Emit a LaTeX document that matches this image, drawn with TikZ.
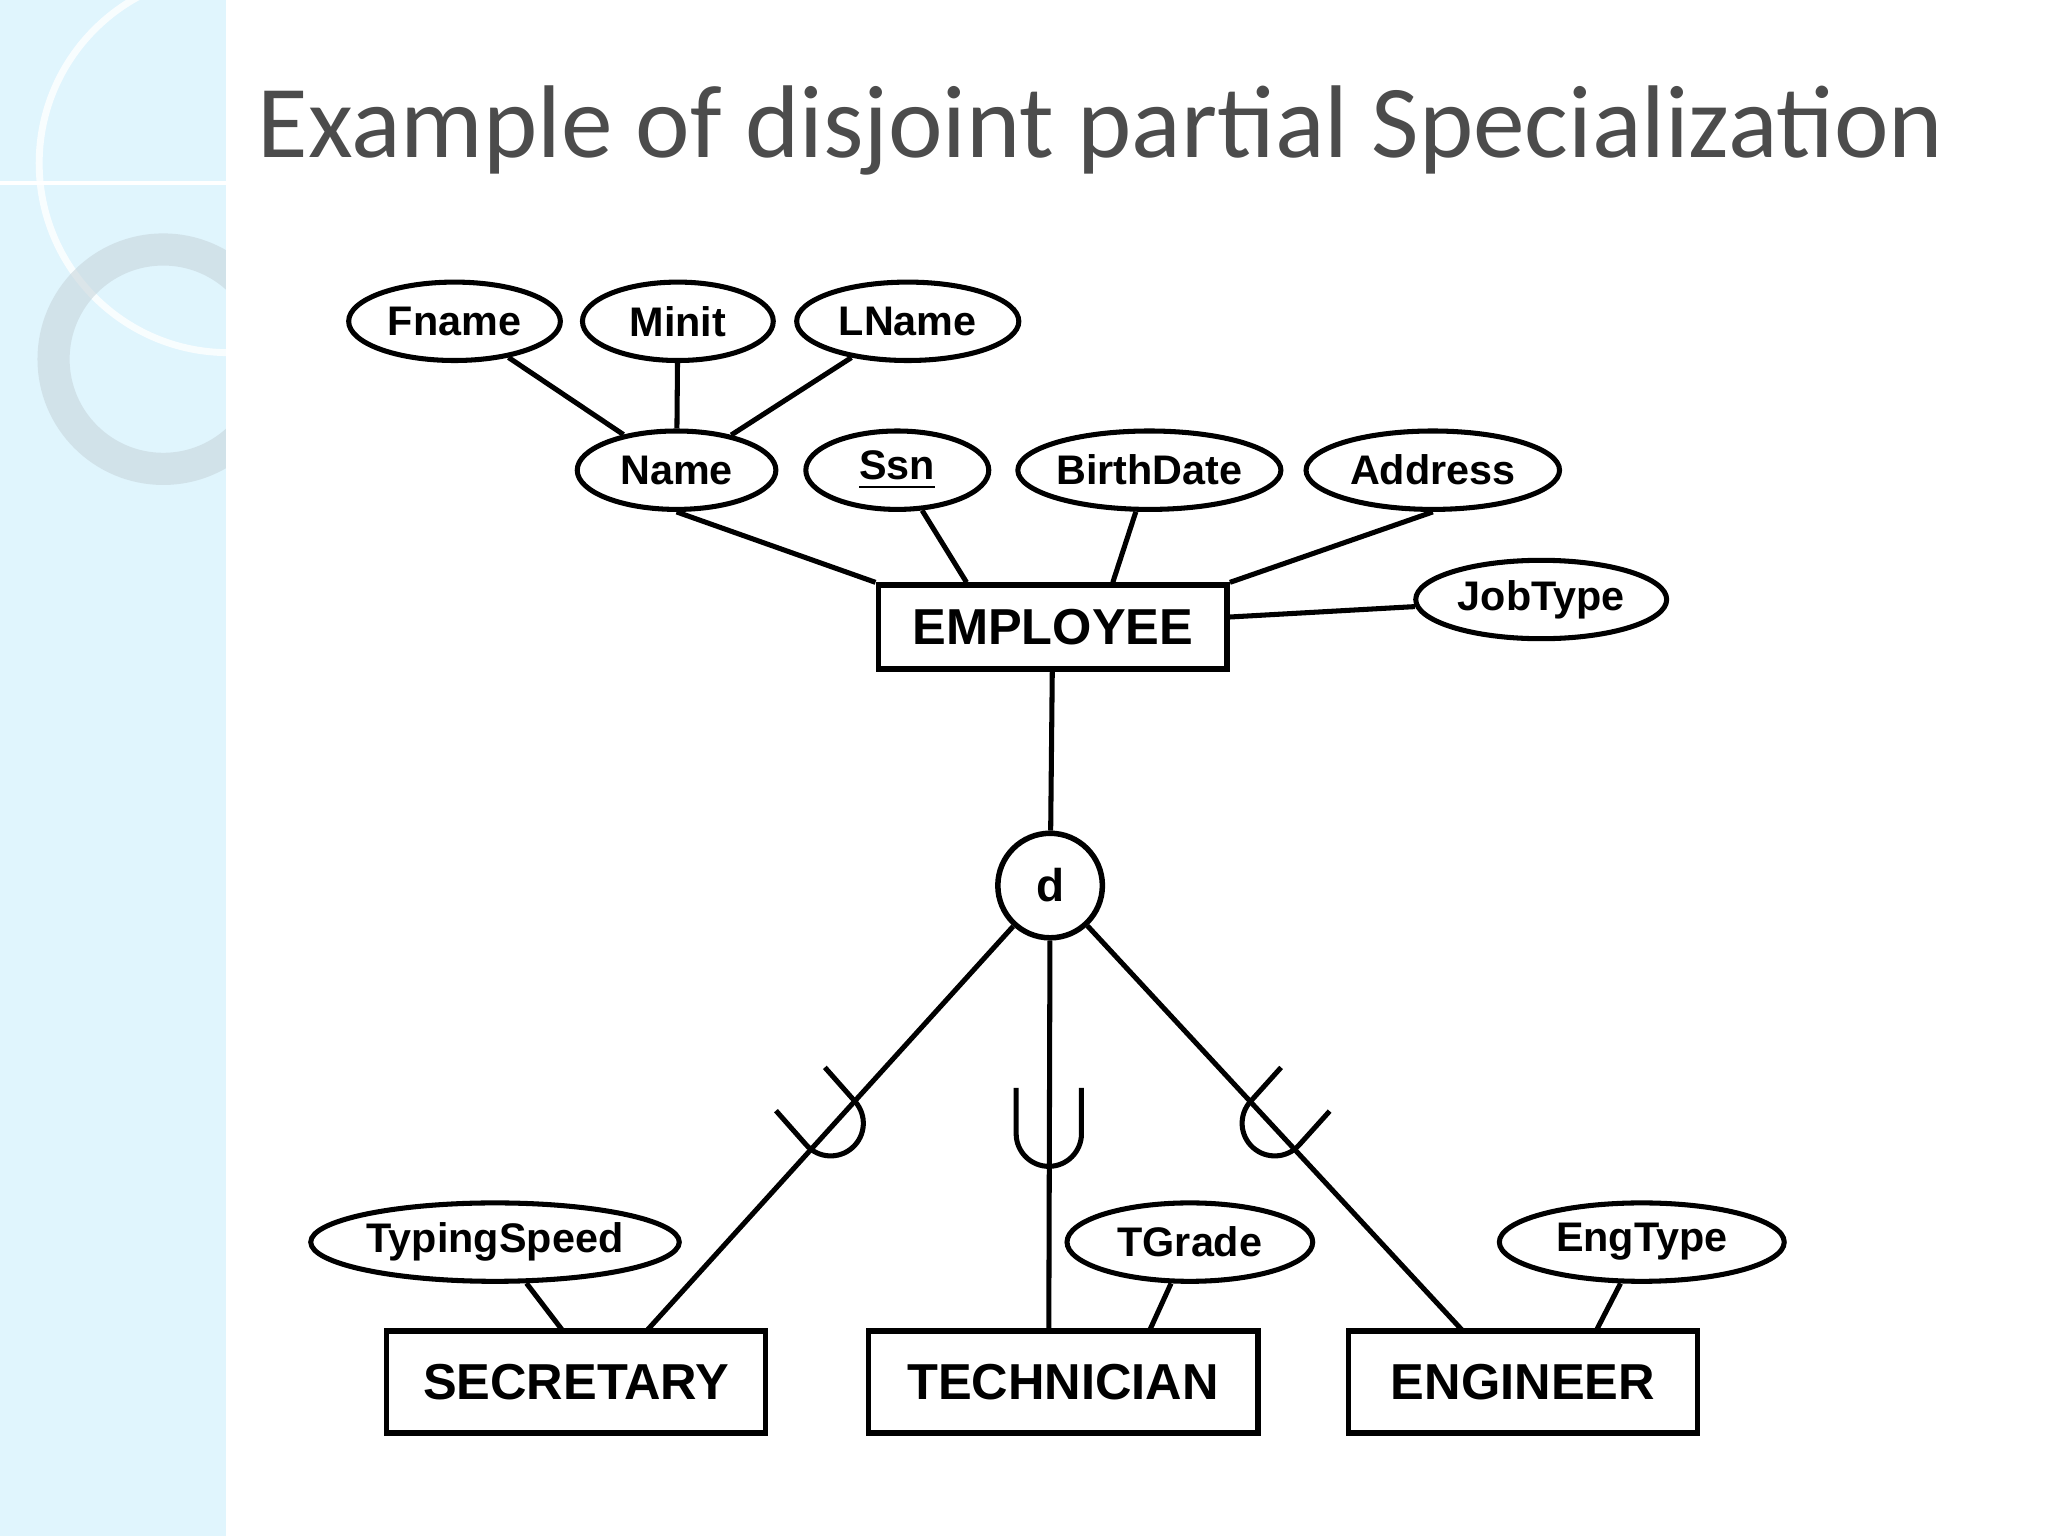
\documentclass[tikz,border=0pt]{standalone}
\usetikzlibrary{shapes.geometric}
\usepackage{fontspec}
\setmainfont{Liberation Sans}
\newfontfamily\titlefont{Carlito}
\begin{document}
\begin{tikzpicture}[x=0.01cm,y=-0.01cm,
  attr/.style={draw,line width=1.1pt,ellipse,inner sep=0pt,font=\bfseries\fontsize{9}{9}\selectfont},
  ent/.style={draw,line width=1.2pt,rectangle,inner sep=0pt,font=\bfseries\fontsize{11}{11}\selectfont},
  ln/.style={line width=1.1pt},
  cup/.style={line width=1.1pt}]
\useasboundingbox (0,0) rectangle (1568,1176);
\fill[cyan!12] (0,0) rectangle (173,1176);
\begin{scope}
\clip (0,0) rectangle (173,1176);
\draw[white,line width=1.5pt,opacity=0.8] (175,125) circle (145);
\draw[cyan!25!gray!40,line width=7pt,opacity=0.6] (125,275) circle (84);
\draw[white,line width=1pt] (0,140) -- (173,140);
\end{scope}
\node[anchor=west,text=black!70,font=\titlefont\fontsize{22.5}{22.5}\selectfont] (title) at (185,100) {Example of disjoint partial Specialization};
\node[attr,minimum width=1.62cm,minimum height=0.6cm] (fname) at (348,246) {Fname};
\node[attr,minimum width=1.46cm,minimum height=0.6cm] (minit) at (519,246) {Minit};
\node[attr,minimum width=1.70cm,minimum height=0.6cm] (lname) at (695,246) {LName};
\node[attr,minimum width=1.52cm,minimum height=0.6cm] (name) at (518,360) {Name};
\node[attr,minimum width=1.40cm,minimum height=0.6cm] (ssn) at (687,360) {\underline{Ssn}};
\node[attr,minimum width=1.96cm,minimum height=0.6cm] (birth) at (880,360) {BirthDate};
\node[attr,minimum width=1.94cm,minimum height=0.6cm] (addr) at (1097,360) {Address};
\node[attr,minimum width=1.92cm,minimum height=0.6cm] (job) at (1180,459) {JobType};
\node[ent,minimum width=2.67cm,minimum height=0.64cm] (emp) at (806,480) {EMPLOYEE};
\node[draw,circle,line width=1.2pt,minimum size=0.8cm,inner sep=0pt,font=\bfseries\fontsize{10}{10}\selectfont] (d) at (804,678) {d};
\node[ent,minimum width=2.90cm,minimum height=0.78cm] (sec) at (441,1058) {SECRETARY};
\node[ent,minimum width=2.98cm,minimum height=0.78cm] (tech) at (814,1058) {TECHNICIAN};
\node[ent,minimum width=2.67cm,minimum height=0.78cm] (eng) at (1166,1058) {ENGINEER};
\node[attr,minimum width=2.82cm,minimum height=0.6cm] (typ) at (379,951) {TypingSpeed};
\node[attr,minimum width=1.88cm,minimum height=0.6cm] (tg) at (911,951) {TGrade};
\node[attr,minimum width=2.18cm,minimum height=0.6cm] (et) at (1257,951) {EngType};
\coordinate (secT) at (495,1019);
\coordinate (techT) at (803,1019);
\coordinate (engT) at (1120,1019);
\coordinate (secN) at (431,1019);
\coordinate (tgN) at (880,1019);
\coordinate (etN) at (1222,1019);
\draw[ln] (fname) -- (name);
\draw[ln] (minit) -- (name);
\draw[ln] (lname) -- (name);
\draw[ln] (name.south) -- (emp.north west);
\draw[ln] (ssn) -- (emp.north -| 740,0);
\draw[ln] (birth) -- (emp.north -| 852,0);
\draw[ln] (addr.south) -- (emp.north east);
\draw[ln] (emp) -- (job);
\draw[ln] (emp) -- (d);
\draw[ln] (d) -- (secT);
\draw[ln] (d) -- (techT);
\draw[ln] (d) -- (engT);
\draw[ln] (typ) -- (secN);
\draw[ln] (tg) -- (tgN);
\draw[ln] (et) -- (etN);
\foreach \p/\r in {{(803,868)}/0,{(636,860)}/41.5,{(976,860)}/-42}{
  \draw[cup,shift={\p},rotate=\r] (-25,-35) -- (-25,0) arc[start angle=180,end angle=0,radius=25] -- (25,-35);
}
\end{tikzpicture}
\end{document}
